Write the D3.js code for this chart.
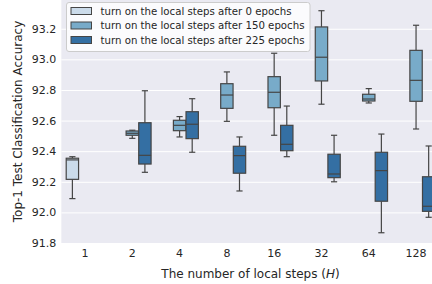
<!DOCTYPE html>
<meta charset="utf-8">
<script src="https://d3js.org/d3.v7.min.js"></script>
<style>
    body { margin: 0; background: #fff; }
    svg { display: block; overflow: hidden; }
    .tick text { font-family: 'DejaVu Sans', sans-serif; font-size: 11px; fill: #262626; }
    .label { font-family: 'DejaVu Sans', sans-serif; font-size: 12px; fill: #262626; text-anchor: middle; }
    .legend text { font-family: 'DejaVu Sans', sans-serif; font-size: 10.2px; fill: #262626; }
</style>
<div id="chart"></div>
<script>
    // x categories (number of local steps H)
    const categories = ["1", "2", "4", "8", "16", "32", "64", "128"];
    const seriesNames = [
        "turn on the local steps after 0 epochs",
        "turn on the local steps after 150 epochs",
        "turn on the local steps after 225 epochs"
    ];
    const baseColors = ["#c6dbef", "#6baed6", "#2171b5"];
    const yTicks = [91.8, 92.0, 92.2, 92.4, 92.6, 92.8, 93.0, 93.2];

    // box stats per category: [whisker low, q1, median, q3, whisker high], null = not run
    const after0 = [
        [92.09, 92.216, 92.343, 92.354, 92.364],
        null, null, null, null, null, null, null
    ];
    const after150 = [
        null,
        [92.484, 92.504, 92.517, 92.532, 92.537],
        [92.493, 92.534, 92.569, 92.602, 92.626],
        [92.595, 92.680, 92.767, 92.841, 92.918],
        [92.504, 92.684, 92.785, 92.887, 93.040],
        [92.707, 92.859, 93.014, 93.212, 93.318],
        [92.715, 92.728, 92.741, 92.772, 92.809],
        [92.545, 92.726, 92.863, 93.059, 93.223]
    ];
    const after225 = [
        null,
        [92.262, 92.316, 92.373, 92.586, 92.795],
        [92.393, 92.482, 92.576, 92.658, 92.743],
        [92.140, 92.256, 92.371, 92.432, 92.493],
        [92.364, 92.403, 92.445, 92.569, 92.695],
        [92.200, 92.227, 92.251, 92.380, 92.504],
        [91.867, 92.073, 92.273, 92.393, 92.512],
        [91.968, 92.007, 92.040, 92.233, 92.434]
    ];
    const allSeries = [after0, after150, after225];

    const W = 432, H = 284;
    const plot = {left: 61.35, right: 439.7, top: 0, bottom: 243};

    // seaborn-like desaturation of the palette
    const colors = baseColors.map(function (c) {
        let h = d3.hsl(c);
        h.s = h.s * 0.75;
        return h.formatHex();
    });
    const edge = "#454545";

    const svg = d3.select("#chart").append("svg")
        .attr("width", W).attr("height", H);

    const x = d3.scaleBand().domain(categories).range([plot.left, plot.right]);
    const hue = d3.scaleBand().domain(d3.range(seriesNames.length))
        .range([x.bandwidth() * 0.1, x.bandwidth() * 0.9]);
    const y = d3.scaleLinear().domain([91.8, 93.388]).range([plot.bottom, plot.top]);

    svg.append("rect")
        .attr("x", plot.left).attr("y", plot.top)
        .attr("width", plot.right - plot.left).attr("height", plot.bottom - plot.top)
        .attr("fill", "#eaeaf2");

    // grid
    svg.append("g")
        .attr("transform", "translate(" + plot.left + ",0)")
        .call(d3.axisLeft(y).tickValues(yTicks).tickSize(-(plot.right - plot.left)).tickFormat(""))
        .call(g => g.select(".domain").remove())
        .call(g => g.selectAll("line").attr("stroke", "#fff").attr("stroke-width", 1));

    // y axis labels
    svg.append("g")
        .attr("transform", "translate(" + plot.left + ",0)")
        .call(d3.axisLeft(y).tickValues(yTicks).tickSize(0).tickPadding(5).tickFormat(d3.format(".1f")))
        .call(g => g.select(".domain").remove());

    // x axis labels
    svg.append("g")
        .attr("transform", "translate(0," + plot.bottom + ")")
        .call(d3.axisBottom(x).tickSize(0).tickPadding(6))
        .call(g => g.select(".domain").remove());

    // boxes
    const bw = hue.bandwidth() * 0.98;
    allSeries.forEach(function (series, si) {
        series.forEach(function (s, ci) {
            if (!s) return;
            const cx = x(categories[ci]) + hue(si) + hue.bandwidth() / 2;
            const g = svg.append("g").attr("stroke", edge).attr("stroke-width", 1.2);
            g.append("line").attr("x1", cx).attr("x2", cx).attr("y1", y(s[0])).attr("y2", y(s[1]));
            g.append("line").attr("x1", cx).attr("x2", cx).attr("y1", y(s[3])).attr("y2", y(s[4]));
            g.append("line").attr("x1", cx - bw / 4).attr("x2", cx + bw / 4).attr("y1", y(s[0])).attr("y2", y(s[0]));
            g.append("line").attr("x1", cx - bw / 4).attr("x2", cx + bw / 4).attr("y1", y(s[4])).attr("y2", y(s[4]));
            g.append("rect")
                .attr("x", cx - bw / 2).attr("width", bw)
                .attr("y", y(s[3])).attr("height", y(s[1]) - y(s[3]))
                .attr("fill", colors[si]);
            g.append("line").attr("x1", cx - bw / 2).attr("x2", cx + bw / 2).attr("y1", y(s[2])).attr("y2", y(s[2]));
        });
    });

    // axis titles
    svg.append("text")
        .attr("class", "label")
        .attr("transform", "translate(22," + ((plot.top + plot.bottom) / 2) + ") rotate(-90)")
        .text("Top-1 Test Classification Accuracy");

    const xl = svg.append("text")
        .attr("class", "label")
        .attr("x", (plot.left + plot.right) / 2)
        .attr("y", 277.5);
    xl.append("tspan").text("The number of local steps (");
    xl.append("tspan").attr("font-style", "italic").text("H");
    xl.append("tspan").text(")");

    // legend
    const leg = svg.append("g").attr("class", "legend");
    leg.append("rect")
        .attr("x", 66.5).attr("y", 2.5).attr("width", 243.5).attr("height", 49)
        .attr("rx", 2.5)
        .attr("fill", "#fff").attr("fill-opacity", 0.8)
        .attr("stroke", "#cccccc").attr("stroke-width", 1);
    seriesNames.forEach(function (name, i) {
        const cy = 11 + i * 14.5;
        leg.append("rect")
            .attr("x", 71).attr("y", cy - 3.5).attr("width", 20.5).attr("height", 7)
            .attr("fill", colors[i]).attr("stroke", edge).attr("stroke-width", 1);
        leg.append("text")
            .attr("x", 100.5).attr("y", cy + 3.7)
            .text(name);
    });
</script>
